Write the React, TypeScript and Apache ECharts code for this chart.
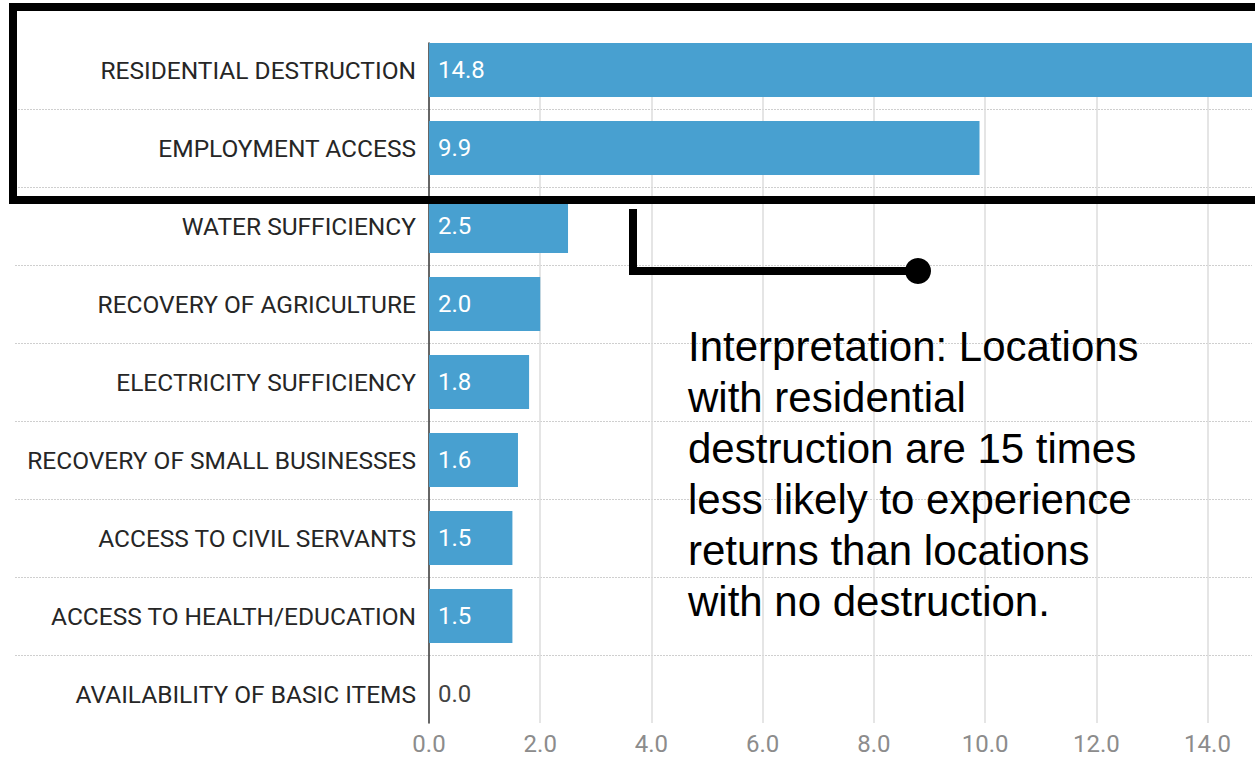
import React, { useEffect, useRef } from "react";
import * as echarts from "echarts";

const categories = [
  "RESIDENTIAL DESTRUCTION",
  "EMPLOYMENT ACCESS",
  "WATER SUFFICIENCY",
  "RECOVERY OF AGRICULTURE",
  "ELECTRICITY SUFFICIENCY",
  "RECOVERY OF SMALL BUSINESSES",
  "ACCESS TO CIVIL SERVANTS",
  "ACCESS TO HEALTH/EDUCATION",
  "AVAILABILITY OF BASIC ITEMS",
];
const values = [14.8, 9.9, 2.5, 2.0, 1.8, 1.6, 1.5, 1.5, 0.0];
const xMin = 0;
const xMax = 14.8;
const xInterval = 2;
const annotationLines = [
  "Interpretation: Locations",
  "with residential",
  "destruction are 15 times",
  "less likely to experience",
  "returns than locations",
  "with no destruction.",
];

const BAR_COLOR = "#48a0d0";
const FONT = "Roboto";

export default function App() {
  const ref = useRef<HTMLDivElement>(null);
  useEffect(() => {
    if (!ref.current) return;
    const chart = echarts.init(ref.current, null, { renderer: "svg" });
    const plotLeft = 429;
    const plotWidth = 823;
    const option: any = {
      animation: false,
      backgroundColor: "#fff",
      textStyle: { fontFamily: FONT },
      grid: [
        { left: 15, top: 31, width: plotLeft + plotWidth - 15, height: 702 },
        { left: plotLeft, top: 31, width: plotWidth, height: 702 },
        { left: plotLeft, top: 43, width: plotWidth, height: 680 },
      ],
      xAxis: [
        { gridIndex: 0, type: "value", min: 0, max: 1, show: false },
        { gridIndex: 1, type: "value", min: xMin, max: xMax, show: false },
        {
          gridIndex: 2,
          type: "value",
          min: xMin,
          max: xMax,
          interval: xInterval,
          axisLine: { show: false },
          axisTick: { show: false },
          axisLabel: {
            show: true,
            showMaxLabel: false,
            formatter: (v: number) => v.toFixed(1),
            color: "#8c8c8c",
            fontSize: 24,
            fontFamily: FONT,
            margin: 9,
          },
          splitLine: {
            show: true,
            showMinLine: false,
            showMaxLine: false,
            lineStyle: { color: "#dcdcdc", width: 1.5 },
          },
        },
      ],
      yAxis: [
        {
          gridIndex: 0,
          type: "category",
          inverse: true,
          data: categories,
          axisLine: { show: false },
          axisTick: { show: false },
          axisLabel: { show: false },
          splitLine: {
            show: true,
            showMinLine: false,
            showMaxLine: false,
            lineStyle: { color: "#cfcfcf", width: 1, type: [2, 1] },
          },
        },
        {
          gridIndex: 1,
          type: "category",
          inverse: true,
          data: categories,
          axisLine: { show: false },
          axisTick: { show: false },
          splitLine: { show: false },
          axisLabel: {
            show: true,
            color: "#262626",
            fontSize: 24.5,
            fontFamily: FONT,
            margin: 13,
          },
        },
        {
          gridIndex: 2,
          type: "category",
          inverse: true,
          data: categories,
          axisLine: { show: true, lineStyle: { color: "#333", width: 1.5 } },
          axisTick: { show: false },
          axisLabel: { show: false },
          splitLine: { show: false },
        },
      ],
      series: [
        {
          type: "bar",
          xAxisIndex: 1,
          yAxisIndex: 1,
          barCategoryGap: "31%",
          itemStyle: { color: BAR_COLOR },
          z: 3,
          label: {
            show: true,
            position: "insideLeft",
            distance: 9,
            color: "#fff",
            fontSize: 24,
            fontFamily: FONT,
            formatter: (p: any) => Number(p.value).toFixed(1),
          },
          data: values.map((v) =>
            v === 0 ? { value: v, label: { color: "#444" } } : v
          ),
        },
      ],
      graphic: [
        {
          type: "rect",
          z: 100,
          shape: { x: 13, y: 7, width: 1280, height: 193 },
          style: { fill: "none", stroke: "#000", lineWidth: 8 },
        },
        {
          type: "polyline",
          z: 100,
          shape: {
            points: [
              [633, 209],
              [633, 271],
              [918, 271],
            ],
          },
          style: { fill: "none", stroke: "#000", lineWidth: 8, lineJoin: "miter" },
        },
        {
          type: "circle",
          z: 101,
          shape: { cx: 918, cy: 271, r: 13 },
          style: { fill: "#000" },
        },
        {
          type: "text",
          z: 100,
          x: 688,
          y: 321,
          style: {
            text: annotationLines.join("\n"),
            font: '42px "Liberation Sans", Arial, sans-serif',
            lineHeight: 51,
            fill: "#000",
            verticalAlign: "top",
            align: "left",
          },
        },
      ],
    };
    chart.setOption(option);
    return () => chart.dispose();
  }, []);
  return (
    <div
      ref={ref}
      style={{ position: "absolute", left: 0, top: 0, width: 1255, height: 760 }}
    />
  );
}
